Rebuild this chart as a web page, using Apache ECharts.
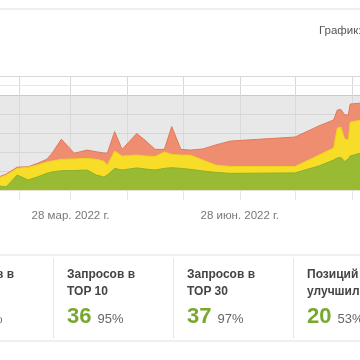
<!DOCTYPE html>
<html><head><meta charset="utf-8">
<script src="https://cdn.jsdelivr.net/npm/echarts@6/dist/echarts.min.js"></script>
<style>
html,body{margin:0;padding:0;width:360px;height:360px;overflow:hidden;background:#fff;font-family:Arial,"Liberation Sans",sans-serif;}
#chart{position:absolute;left:0;top:0;width:360px;height:360px;}
.topline{position:absolute;left:0;top:8px;width:360px;height:2px;background:#efefef;}
.gtitle{position:absolute;left:319px;top:24px;font-size:11.5px;color:#555;white-space:nowrap;}
.row{position:absolute;left:0;top:254px;width:360px;height:84px;border-top:2px solid #f0f0f0;border-bottom:2px solid #f0f0f0;}
.card{position:absolute;top:2px;width:120px;height:80px;box-sizing:border-box;white-space:nowrap;}
.card.sep{border-left:1px solid #e6e6e6;}
.ttl{position:absolute;left:13px;top:8px;font-size:12px;font-weight:bold;color:#444;line-height:17px;}
.num{position:absolute;left:13px;top:47px;line-height:22px;}
.big{font-size:22px;font-weight:bold;color:#78a82e;}
.pct{font-size:13px;color:#666;margin-left:6px;}
</style></head>
<body>
<div id="chart"></div>
<div class="topline"></div>
<div class="gtitle">График:</div>
<div class="row" id="row"></div>
<script>
// ---- data ----
const dates = ['2022-02-17','2022-02-21','2022-02-27','2022-03-05','2022-03-10','2022-03-15','2022-03-18','2022-03-23','2022-03-30','2022-04-06','2022-04-11','2022-04-15','2022-04-17','2022-04-21','2022-04-25','2022-05-03','2022-05-08','2022-05-13','2022-05-18','2022-05-22','2022-05-27','2022-06-01','2022-06-08','2022-06-15','2022-06-23','2022-07-28','2022-08-10','2022-08-18','2022-08-20','2022-08-22','2022-08-24','2022-08-26','2022-08-27','2022-09-02'];
const top30 = [5.5, 6.7, 9.6, 9.8, 11.2, 12.9, 15.5, 21.4, 15.5, 16.8, 16.1, 15.6, 15.5, 24.6, 17.1, 23.8, 20.6, 17.1, 17.1, 26.7, 17.1, 16.8, 17.3, 19.0, 20.6, 22.3, 27.0, 29.5, 33.7, 33.9, 31.6, 31.6, 36.2, 36.6];
const top10 = [5.1, 6.3, 9.1, 9.6, 10.5, 11.8, 12.2, 12.9, 13.1, 13.3, 12.9, 12.2, 10.5, 16.4, 14.3, 14.7, 14.3, 14.1, 16.0, 15.0, 14.7, 14.7, 12.6, 10.5, 9.9, 9.9, 14.7, 17.7, 26.1, 26.5, 21.5, 21.1, 28.6, 29.5];
const top3 = [1.7, 1.3, 6.3, 4.2, 5.5, 7.0, 7.6, 8.1, 8.2, 8.4, 6.3, 5.5, 6.3, 9.1, 8.4, 9.3, 8.8, 8.4, 9.1, 9.4, 9.1, 8.7, 8.0, 7.4, 7.0, 7.2, 10.1, 12.6, 13.5, 13.7, 12.0, 13.1, 14.3, 15.6];
const monthTicks = ['2022-02-28','2022-03-28','2022-04-28','2022-05-28','2022-06-28','2022-07-28','2022-08-28'];
const labelDates = ['2022-03-28','2022-06-28'];
const labelTexts = ['28 мар. 2022 г.','28 июн. 2022 г.'];
const xRange = ['2022-02-17 16:00','2022-09-01 08:00'];
const cardTitles = [['Запросов в','TOP 3'],['Запросов в','TOP 10'],['Запросов в','TOP 30'],['Позиций','улучшилось']];
const cardNums = ['27','36','37','20'];
const cardPcts = ['71%','95%','97%','53%'];

// ---- cards ----
const row = document.getElementById('row');
const cardLefts = [-67, 53, 173, 293];
cardTitles.forEach((t, i) => {
  const c = document.createElement('div');
  c.className = 'card' + (i > 0 ? ' sep' : '');
  c.style.left = cardLefts[i] + 'px';
  c.innerHTML = '<div class="ttl">' + t[0] + '<br>' + t[1] + '</div>' +
    '<div class="num"><span class="big">' + cardNums[i] + '</span><span class="pct">' + cardPcts[i] + '</span></div>';
  row.appendChild(c);
});

// ---- chart ----
const P = s => echarts.time.parse(s).getTime();
const labelMap = {};
labelDates.forEach((d, i) => { labelMap[P(d)] = labelTexts[i]; });
const mk = arr => dates.map((d, i) => [P(d), arr[i]]);

const chart = echarts.init(document.getElementById('chart'), null, {renderer: 'canvas'});
chart.setOption({
  animation: false,
  grid: {left: 0, right: 0, top: 76, bottom: 170, containLabel: false, outerBoundsMode: 'none'},
  xAxis: {
    type: 'value', min: P(xRange[0]), max: P(xRange[1]),
    axisLine: {show: true, lineStyle: {color: '#e4e2cf', width: 1}},
    axisTick: {show: true, customValues: monthTicks.map(P), length: 10, lineStyle: {color: '#e6e6e6'}},
    axisLabel: {show: true, customValues: labelDates.map(P), margin: 20, fontSize: 11.5, color: '#777',
      fontFamily: 'Arial, Liberation Sans, sans-serif',
      formatter: v => labelMap[v] || ''},
    splitLine: {show: true, lineStyle: {color: '#d9d9d9', width: 1}}
  },
  yAxis: {
    type: 'value', min: 0, max: 48, interval: 8,
    axisLabel: {show: false}, axisLine: {show: false}, axisTick: {show: false},
    splitLine: {show: true, lineStyle: {color: ['#dcdcdc','#d6d6d6','#d6d6d6','#d6d6d6','#d6d6d6','#c9c9c9','#d9d9d9'], width: 1}},
    splitArea: {show: true, areaStyle: {color: ['#e8e8e8','#e8e8e8','#e8e8e8','#e8e8e8','#e8e8e8','#ffffff']}}
  },
  series: [
    {name: 'TOP 30', type: 'line', data: mk(top30), symbol: 'none', silent: true,
     lineStyle: {color: '#df7a5d', width: 1}, areaStyle: {color: '#ee8d6f', opacity: 1},
     markLine: {silent: true, symbol: 'none', label: {show: false}, lineStyle: {color: '#e8e8e8', type: 'solid', width: 1}, data: [{yAxis: 44}]}},
    {name: 'TOP 10', type: 'line', data: mk(top10), symbol: 'none', silent: true,
     lineStyle: {color: '#f0d21c', width: 1}, areaStyle: {color: '#f7dc28', opacity: 1}},
    {name: 'TOP 3', type: 'line', data: mk(top3), symbol: 'none', silent: true,
     lineStyle: {color: '#8eae2c', width: 1}, areaStyle: {color: '#99ba33', opacity: 1}}
  ]
});
</script>
</body></html>
